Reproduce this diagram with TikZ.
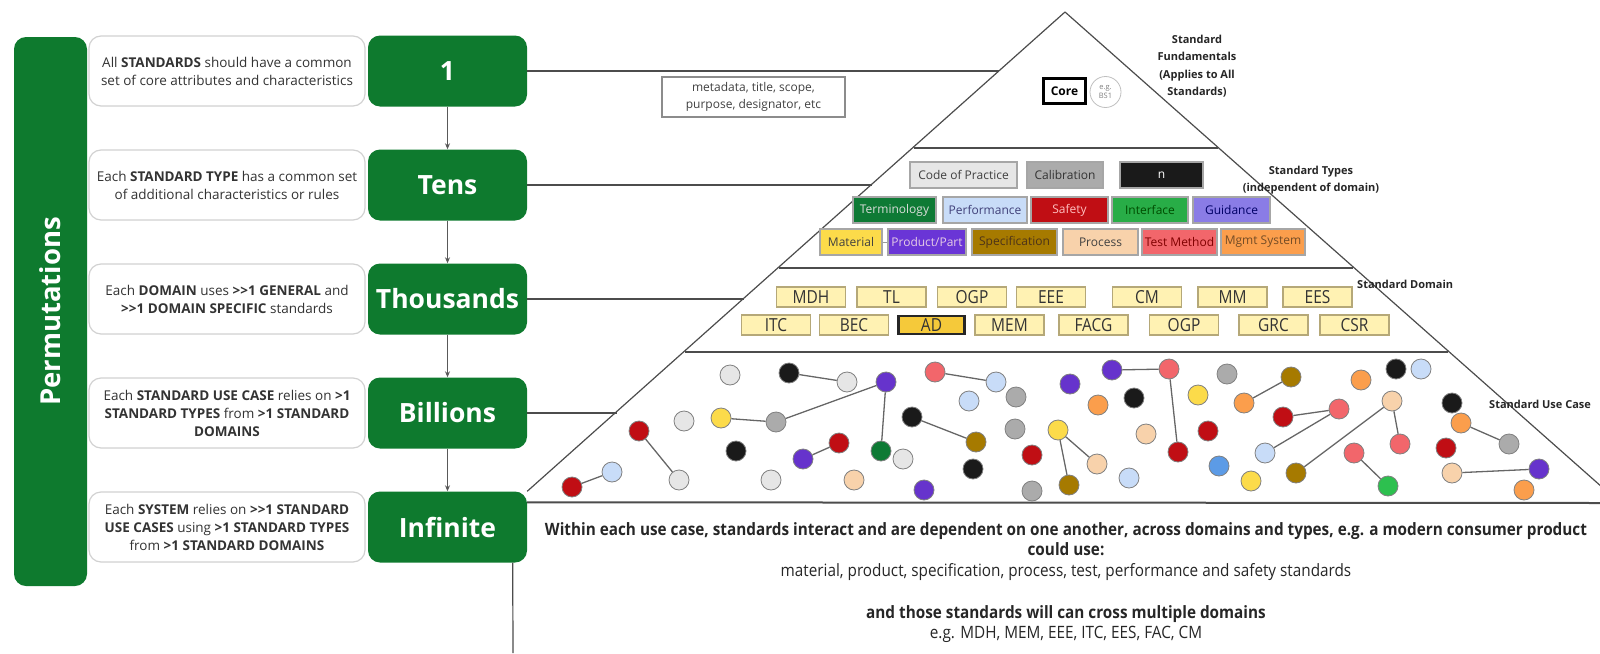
\documentclass[tikz,border=0pt]{standalone}
\usepackage{fontspec}
\setmainfont{Open Sans}
\newfontfamily\condfont[FakeStretch=0.86]{Open Sans}
\newfontfamily\notefont[FakeStretch=0.9]{Open Sans}
\usetikzlibrary{arrows.meta}

\definecolor{pgreen}{HTML}{0E7A2E}
\definecolor{cLgray}{HTML}{E6E6E6}
\definecolor{cBlack}{HTML}{1A1A1A}
\definecolor{cGray}{HTML}{ABABAB}
\definecolor{cViolet}{HTML}{6633CC}
\definecolor{cSalmon}{HTML}{F2666B}
\definecolor{cLblue}{HTML}{C8DCF8}
\definecolor{cRed}{HTML}{C00E14}
\definecolor{cYellow}{HTML}{FCDB4A}
\definecolor{cBrown}{HTML}{A67A00}
\definecolor{cOrange}{HTML}{FB9E4C}
\definecolor{cPeach}{HTML}{F8D2AB}
\definecolor{cDgreen}{HTML}{0E7A35}
\definecolor{cGreen}{HTML}{2DC04F}
\definecolor{cBlue}{HTML}{5C9BE6}
\definecolor{cGuide}{HTML}{8A7CE6}
\definecolor{cProd}{HTML}{6A35D6}
\definecolor{domfill}{HTML}{FFF2B3}
\definecolor{dombord}{HTML}{B5A878}
\definecolor{adfill}{HTML}{F5C93A}

\begin{document}
\begin{tikzpicture}[x=1pt, y=-1pt,
  descbox/.style={draw=black!18, line width=1.2pt, fill=white, rounded corners=12pt, minimum width=276pt, minimum height=70pt, inner sep=0pt, align=center, text=black!80, font=\fontsize{13.5}{18}\selectfont},
  greenbox/.style={fill=pgreen, rounded corners=12pt, minimum width=159pt, minimum height=71pt, text=white, font=\fontsize{26.5}{30}\selectfont\bfseries},
  permbar/.style={fill=pgreen, rounded corners=12pt, minimum width=549pt, minimum height=73pt, text=white, font=\fontsize{27.5}{30}\selectfont\bfseries},
  pyrline/.style={draw=black!70, line width=1.2pt},
  steparrow/.style={draw=black!65, line width=1.2pt, -{Stealth[length=6pt,width=5pt]}},
  typebox/.style={draw=black!35, line width=1.2pt, minimum height=26pt, inner sep=0pt, font=\fontsize{12}{13}\selectfont},
  dombox/.style={fill=domfill, draw=dombord, line width=1.2pt, minimum width=69pt, minimum height=20pt, inner sep=0pt, text=black!80, font=\condfont\fontsize{18}{18}\selectfont},
  usedot/.style={circle, draw=black!50, line width=0.8pt, minimum size=20pt, inner sep=0pt},
  dotlink/.style={draw=black!60, line width=1.3pt},
  layerlabel/.style={font=\fontsize{11}{17.5}\selectfont\bfseries, text=black!85, align=center, inner sep=0pt}]

\clip (0,0) rectangle (1600,653);

%Left Column

\node [permbar, rotate=90] (perm) at (50.5,311.5) {Permutations};

\node [descbox] (d1) at (227,71) {All \textbf{STANDARDS} should have a common\\set of core attributes and characteristics};
\node [descbox] (d2) at (227,185) {Each \textbf{STANDARD TYPE} has a common set\\of additional characteristics or rules};
\node [descbox] (d3) at (227,299) {Each \textbf{DOMAIN} uses \textbf{>{}>1 GENERAL} and\\\textbf{>{}>1 DOMAIN SPECIFIC} standards};
\node [descbox] (d4) at (227,413) {Each \textbf{STANDARD USE CASE} relies on \textbf{>1}\\\textbf{STANDARD TYPES} from \textbf{>1 STANDARD}\\\textbf{DOMAINS}};
\node [descbox] (d5) at (227,527) {Each \textbf{SYSTEM} relies on \textbf{>{}>1 STANDARD}\\\textbf{USE CASES} using \textbf{>1 STANDARD TYPES}\\from \textbf{>1 STANDARD DOMAINS}};

\node [greenbox] (one) at (447.5,71) {1};
\node [greenbox] (tens) at (447.5,185) {Tens};
\node [greenbox] (thou) at (447.5,299) {Thousands};
\node [greenbox] (bill) at (447.5,413) {Billions};
\node [greenbox] (inf) at (447.5,527) {Infinite};

\draw [steparrow] (one) -- (tens);
\draw [steparrow] (tens) -- (thou);
\draw [steparrow] (thou) -- (bill);
\draw [steparrow] (bill) -- (inf);

\coordinate (down) at (513,653);
\draw [pyrline] ([xshift=-14.5pt]inf.south east) -- (down);

%Pyramid Drawing

\coordinate (apex) at (1065,12);
\coordinate (rightfoot) at (1620,503);
\coordinate (baseR) at (1600,503);
\draw [pyrline] (apex) -- (inf.north east);
\draw [pyrline] (apex) -- (rightfoot);
\draw [pyrline] (914,148) -- (1218,148);
\draw [pyrline] (779,268) -- (1353,268);
\draw [pyrline] (685,352) -- (1448,352);
\draw [pyrline, line width=2pt] ([yshift=-11pt]inf.north east) -- (baseR);

%Level connectors

\coordinate (e1) at (999,71);
\coordinate (e2) at (872,185);
\coordinate (e3) at (744,299);
\coordinate (e4) at (617,413);
\draw [pyrline] (one.east) -- (e1);
\draw [pyrline] (tens.east) -- (e2);
\draw [pyrline] (thou.east) -- (e3);
\draw [pyrline] (bill.east) -- (e4);

%Fundamentals

\node [draw=black!45, line width=1.3pt, minimum width=183pt, minimum height=40pt, inner sep=0pt, align=center, text=black!75, font=\fontsize{12}{17}\selectfont] (meta) at (753.5,97) {metadata, title, scope,\\purpose, designator, etc};
\node [draw=black, line width=3pt, minimum width=42pt, minimum height=25pt, inner sep=0pt, font=\fontsize{12}{12}\selectfont\bfseries] (core) at (1064.5,91) {Core};
\node [circle, draw=black!25, line width=0.8pt, minimum size=31pt, inner sep=0pt, align=center, text=black!50, font=\fontsize{7.5}{9}\selectfont] (bs1) at (1105.5,92) {e.g.\\BS1};

%Standard Types

\node [typebox, fill=cLgray, text=black!75, minimum width=107pt] (cop) at (963.5,175) {Code of Practice};
\node [typebox, fill=cGray, text=black!80, minimum width=76pt] (cal) at (1065,175) {Calibration};
\node [typebox, fill=cBlack, text=white, minimum width=83pt] (tn) at (1161.5,175) {n};

\node [typebox, fill=cDgreen, text=green!10!black!15, minimum width=83pt] (term) at (894.5,210) {Terminology};
\node [typebox, fill=cLblue, text=blue!30!black!75, minimum width=84pt] (perf) at (985,210) {Performance};
\node [typebox, fill=cRed, text=red!25, minimum width=77pt] (safe) at (1069.5,210) {Safety};
\node [typebox, fill=cGreen!90!black, text=green!30!black, minimum width=76pt] (intf) at (1150,210) {Interface};
\node [typebox, fill=cGuide, text=blue!40!black, minimum width=77pt] (guid) at (1231.5,210) {Guidance};

\node [typebox, fill=cYellow, text=black!75, minimum width=62pt] (mat) at (851,242) {Material};
\node [typebox, fill=cProd, text=violet!20, minimum width=78pt] (prod) at (927,242) {Product/Part};
\node [typebox, fill=cBrown, text=brown!40!black, minimum width=85pt] (spec) at (1014.5,242) {Specification};
\node [typebox, fill=cPeach, text=black!75, minimum width=75pt] (proc) at (1100.5,242) {Process};
\node [typebox, fill=cSalmon, text=red!50!black, minimum width=75pt] (test) at (1179.5,242) {Test Method};
\node [typebox, fill=cOrange, text=brown!60!black, minimum width=84pt] (mgmt) at (1263,242) {Mgmt System};
\draw [black!40, line width=1pt] (mat) -- (prod);

%Standard Domains

\node [dombox] (mdh) at (811,297) {MDH};
\node [dombox] (tl) at (891.5,297) {TL};
\node [dombox] (ogpa) at (972,297) {OGP};
\node [dombox] (eee) at (1051,297) {EEE};
\node [dombox] (cm) at (1147,297) {CM};
\node [dombox] (mm) at (1232.5,297) {MM};
\node [dombox] (ees) at (1317.5,297) {EES};

\node [dombox] (itc) at (776,325) {ITC};
\node [dombox] (bec) at (854,325) {BEC};
\node [dombox, fill=adfill, draw=black!85, line width=2.2pt, minimum width=66pt, minimum height=18pt] (ad) at (931.5,325) {AD};
\node [dombox] (mem) at (1009.5,325) {MEM};
\node [dombox] (facg) at (1093.5,325) {FACG};
\node [dombox] (ogpb) at (1184,325) {OGP};
\node [dombox] (grc) at (1273.5,325) {GRC};
\node [dombox] (csr) at (1354.5,325) {CSR};

%Standard Use Cases

\node [usedot, fill=cLgray] (u1) at (730,375) {};
\node [usedot, fill=cBlack] (u2) at (789,373) {};
\node [usedot, fill=cLgray] (u3) at (847,382) {};
\node [usedot, fill=cViolet] (u4) at (886,382) {};
\node [usedot, fill=cSalmon] (u5) at (935,372) {};
\node [usedot, fill=cLblue] (u6) at (996,382) {};
\node [usedot, fill=cLblue] (u7) at (969,401) {};
\node [usedot, fill=cGray] (u8) at (1016,397) {};
\node [usedot, fill=cViolet] (u9) at (1070,384) {};
\node [usedot, fill=cViolet] (u10) at (1112,370) {};
\node [usedot, fill=cSalmon] (u11) at (1169,369) {};
\node [usedot, fill=cGray] (u12) at (1227,374) {};
\node [usedot, fill=cBrown] (u13) at (1291,377) {};
\node [usedot, fill=cOrange] (u14) at (1361,380) {};
\node [usedot, fill=cBlack] (u15) at (1396,369) {};
\node [usedot, fill=cLblue] (u16) at (1421,369) {};
\node [usedot, fill=cLgray] (u17) at (684,421) {};
\node [usedot, fill=cYellow] (u18) at (721,418) {};
\node [usedot, fill=cGray] (u19) at (776,422) {};
\node [usedot, fill=cRed] (u20) at (639,431) {};
\node [usedot, fill=cBlack] (u21) at (912,417) {};
\node [usedot, fill=cGray] (u22) at (1015,429) {};
\node [usedot, fill=cOrange] (u23) at (1098,405) {};
\node [usedot, fill=cBlack] (u24) at (1134,398) {};
\node [usedot, fill=cYellow] (u25) at (1198,395) {};
\node [usedot, fill=cOrange] (u26) at (1244,403) {};
\node [usedot, fill=cPeach] (u27) at (1392,401) {};
\node [usedot, fill=cBlack] (u28) at (1452,403) {};
\node [usedot, fill=cYellow] (u29) at (1058,430) {};
\node [usedot, fill=cBrown] (u30) at (976,442) {};
\node [usedot, fill=cPeach] (u31) at (1146,434) {};
\node [usedot, fill=cRed] (u32) at (1208,431) {};
\node [usedot, fill=cRed] (u33) at (1283,417) {};
\node [usedot, fill=cSalmon] (u34) at (1339,409) {};
\node [usedot, fill=cOrange] (u35) at (1461,423) {};
\node [usedot, fill=cGray] (u36) at (1509,444) {};
\node [usedot, fill=cBlack] (u37) at (736,451) {};
\node [usedot, fill=cViolet] (u38) at (803,459) {};
\node [usedot, fill=cRed] (u39) at (839,443) {};
\node [usedot, fill=cDgreen] (u40) at (881,451) {};
\node [usedot, fill=cLgray] (u41) at (903,459) {};
\node [usedot, fill=cRed] (u42) at (1032,455) {};
\node [usedot, fill=cRed] (u43) at (1178,452) {};
\node [usedot, fill=cSalmon] (u44) at (1400,444) {};
\node [usedot, fill=cRed] (u45) at (1446,448) {};
\node [usedot, fill=cPeach] (u46) at (1097,464) {};
\node [usedot, fill=cLblue] (u47) at (1265,453) {};
\node [usedot, fill=cSalmon] (u48) at (1354,453) {};
\node [usedot, fill=cBlack] (u49) at (973,469) {};
\node [usedot, fill=cLblue] (u50) at (612,472) {};
\node [usedot, fill=cRed] (u51) at (572,487) {};
\node [usedot, fill=cLgray] (u52) at (679,480) {};
\node [usedot, fill=cLgray] (u53) at (771,480) {};
\node [usedot, fill=cPeach] (u54) at (854,480) {};
\node [usedot, fill=cViolet] (u55) at (924,490) {};
\node [usedot, fill=cGray] (u56) at (1032,491) {};
\node [usedot, fill=cBrown] (u57) at (1069,485) {};
\node [usedot, fill=cLblue] (u58) at (1129,478) {};
\node [usedot, fill=cBlue] (u59) at (1219,466) {};
\node [usedot, fill=cYellow] (u60) at (1251,481) {};
\node [usedot, fill=cBrown] (u61) at (1296,473) {};
\node [usedot, fill=cGreen] (u62) at (1388,486) {};
\node [usedot, fill=cPeach] (u63) at (1452,473) {};
\node [usedot, fill=cViolet] (u64) at (1539,469) {};
\node [usedot, fill=cOrange] (u65) at (1524,490) {};

\draw [dotlink] (u2) -- (u3);
\draw [dotlink] (u18) -- (u19);
\draw [dotlink] (u19) -- (u4);
\draw [dotlink] (u4) -- (u40);
\draw [dotlink] (u38) -- (u39);
\draw [dotlink] (u20) -- (u52);
\draw [dotlink] (u51) -- (u50);
\draw [dotlink] (u5) -- (u6);
\draw [dotlink] (u21) -- (u30);
\draw [dotlink] (u10) -- (u11);
\draw [dotlink] (u11) -- (u43);
\draw [dotlink] (u13) -- (u26);
\draw [dotlink] (u29) -- (u57);
\draw [dotlink] (u29) -- (u46);
\draw [dotlink] (u33) -- (u34);
\draw [dotlink] (u34) -- (u47);
\draw [dotlink] (u27) -- (u61);
\draw [dotlink] (u27) -- (u44);
\draw [dotlink] (u48) -- (u62);
\draw [dotlink] (u35) -- (u36);
\draw [dotlink] (u63) -- (u64);

%Layer labels

\node [layerlabel] (lfund) at (1197,66) {Standard\\Fundamentals\\(Applies to All\\Standards)};
\node [layerlabel] (ltype) at (1311,180) {Standard Types\\(independent of domain)};
\node [layerlabel, anchor=west] (ldom) at (1357,284) {Standard Domain};
\node [layerlabel, anchor=west] (luse) at (1489,404) {Standard Use Case};

%Note below pyramid

\node [anchor=north, align=center, inner sep=0pt, text=black!85, font=\notefont\fontsize{17}{20.7}\selectfont] (note) at (1066,522) {\textbf{Within each use case, standards interact and are dependent on one another, across domains and types, e.g. a modern consumer product}\\\textbf{could use:}\\material, product, specification, process, test, performance and safety standards\\[21pt]\textbf{and those standards will can cross multiple domains}\\e.g. MDH, MEM, EEE, ITC, EES, FAC, CM};

\end{tikzpicture}
\end{document}
